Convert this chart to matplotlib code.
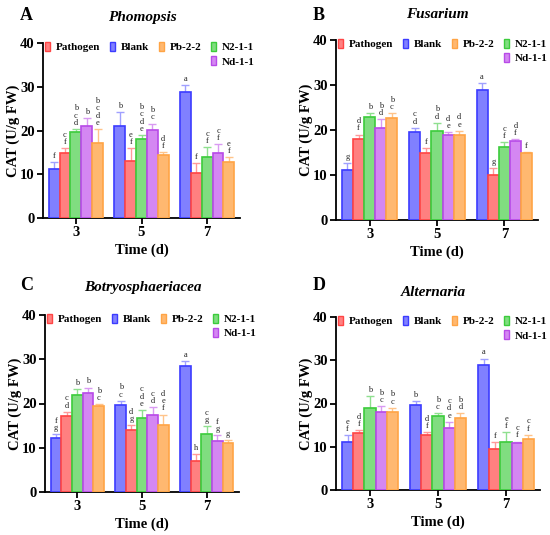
import matplotlib
matplotlib.use('Agg')
import matplotlib.pyplot as plt
from matplotlib.patches import Patch
import numpy as np

plt.rcParams['font.family'] = ['Liberation Serif', 'DejaVu Serif']

# bar order inside each group
treatments = ['Blank', 'Pathogen', 'N2-1-1', 'Nd-1-1', 'Pb-2-2']
legend_order = ['Pathogen', 'Blank', 'Pb-2-2', 'N2-1-1', 'Nd-1-1']
days = ['3', '5', '7']

face = {'Blank': '#8080ff', 'Pathogen': '#ff8080', 'N2-1-1': '#80dd80',
        'Nd-1-1': '#d487f2', 'Pb-2-2': '#ffb870'}
edge = {'Blank': '#3c3cff', 'Pathogen': '#ff4545', 'N2-1-1': '#3ccc3c',
        'Nd-1-1': '#b84ae8', 'Pb-2-2': '#ffa445'}
errc = {'Blank': '#a0a0ff', 'Pathogen': '#ff9a9a', 'N2-1-1': '#8fe08f',
        'Nd-1-1': '#d99af2', 'Pb-2-2': '#ffc48a'}

# rows follow treatments, columns follow days
phomopsis_mean = [[11.2, 21.0, 28.8], [14.9, 13.0, 10.4], [19.7, 18.0, 13.9],
                  [21.0, 20.1, 14.9], [17.1, 14.5, 12.7]]
phomopsis_err = [[1.6, 3.2, 1.5], [1.1, 3.0, 2.2], [0.6, 0.9, 2.3],
                 [1.9, 1.5, 2.0], [3.2, 0.5, 1.2]]
phomopsis_sig = [['f', 'b', 'a'], ['cf', 'ef', 'f'], ['bcd', 'bcde', 'cf'],
                 ['b', 'bc', 'cf'], ['bcde', 'df', 'ef']]

fusarium_mean = [[11.1, 19.6, 29.0], [17.9, 15.0, 10.1], [23.0, 19.8, 16.3],
                 [20.4, 19.0, 17.6], [22.6, 19.0, 14.8]]
fusarium_err = [[1.5, 0.9, 1.4], [1.1, 0.9, 1.4], [0.7, 1.8, 1.0],
                [2.0, 0.5, 0.4], [1.1, 0.8, 0.3]]
fusarium_sig = [['g', 'cd', 'a'], ['df', 'f', 'g'], ['b', 'bd', 'cf'],
                ['bd', 'de', 'df'], ['bc', 'de', 'f']]

botryo_mean = [[12.2, 19.6, 28.5], [17.2, 14.0, 7.0], [21.9, 16.8, 13.2],
               [22.3, 17.4, 11.5], [19.5, 15.1, 11.0]]
botryo_err = [[0.9, 1.0, 1.1], [0.9, 1.1, 1.5], [1.3, 1.7, 1.7],
              [1.3, 1.8, 1.3], [0.3, 2.4, 0.7]]
botryo_sig = [['fg', 'bc', 'a'], ['cd', 'dg', 'h'], ['b', 'cde', 'cg'],
              ['b', 'cd', 'fg'], ['bc', 'def', 'g']]

alternaria_mean = [[11.2, 19.6, 28.8], [13.1, 12.7, 9.4], [19.0, 17.1, 11.2],
                   [18.1, 14.4, 10.8], [18.1, 16.7, 11.9]]
alternaria_err = [[1.5, 0.9, 1.6], [0.7, 0.6, 1.6], [2.7, 0.7, 2.1],
                  [1.3, 1.4, 0.4], [0.9, 1.0, 0.9]]
alternaria_sig = [['ef', 'b', 'a'], ['df', 'df', 'f'], ['b', 'bc', 'ef'],
                  ['bc', 'cde', 'cf'], ['bc', 'bd', 'cf']]

W, H = 550, 535
fig = plt.figure(figsize=(W / 100, H / 100), dpi=100)


def px_axes(left, top, right, bottom):
    return fig.add_axes([left / W, 1 - bottom / H, (right - left) / W, (bottom - top) / H])


panels = [
    ('A', 'Phomopsis', (43, 43, 240, 218), phomopsis_mean, phomopsis_err, phomopsis_sig, (20, 16), (142, 18)),
    ('B', 'Fusarium', (336, 40, 538, 220), fusarium_mean, fusarium_err, fusarium_sig, (313, 15), (437, 15)),
    ('C', 'Botryosphaeriacea', (45, 315, 239, 492), botryo_mean, botryo_err, botryo_sig, (20, 285), (143, 288)),
    ('D', 'Alternaria', (336, 317, 540, 490), alternaria_mean, alternaria_err, alternaria_sig, (313, 285), (433, 292)),
]

bw = 0.165
x = np.arange(len(days))

for letter, title, box, means, errs, sigs, lpos, tpos in panels:
    ax = px_axes(*box)
    for i, t in enumerate(treatments):
        xs = x + (i - 2) * bw
        ax.bar(xs, means[i], bw, color=face[t], edgecolor=edge[t], linewidth=1.2, zorder=3)
        ax.errorbar(xs, means[i], yerr=[np.zeros(3), errs[i]], fmt='none',
                    ecolor=errc[t], elinewidth=1.0, capsize=2.8, capthick=1.0, zorder=2)
        for j in range(3):
            ax.annotate('\n'.join(sigs[i][j]), (xs[j], means[i][j] + errs[i][j]),
                        xytext=(0, 1.5), textcoords='offset points', ha='center', va='bottom',
                        fontsize=6, linespacing=0.9, color='#222222')

    ax.set_xlim(-0.5, 2.5)
    ax.set_ylim(0, 40)
    ax.set_yticks([0, 10, 20, 30, 40])
    ax.set_xticks(x)
    ax.set_xticklabels(days)
    for s in ['top', 'right']:
        ax.spines[s].set_visible(False)
    for s in ['left', 'bottom']:
        ax.spines[s].set_linewidth(1.3)
    ax.tick_params(width=1.3, length=4, labelsize=10.5, pad=2)
    for lab in ax.get_xticklabels() + ax.get_yticklabels():
        lab.set_fontweight('bold')
    ax.set_xlabel('Time (d)', fontsize=10.5, fontweight='bold', labelpad=3)
    ax.set_ylabel('CAT (U/g FW)', fontsize=10.5, fontweight='bold', labelpad=0)

    # legend: 4 on the first row, Nd-1-1 under N2-1-1
    blank_h = Patch(facecolor='none', edgecolor='none')
    hmap = {t: Patch(facecolor=face[t], edgecolor=edge[t], linewidth=1.0) for t in treatments}
    handles = [hmap['Pathogen'], blank_h, hmap['Blank'], blank_h,
               hmap['Pb-2-2'], blank_h, hmap['N2-1-1'], hmap['Nd-1-1']]
    labels = ['Pathogen', '', 'Blank', '', 'Pb-2-2', '', 'N2-1-1', 'Nd-1-1']
    ax.legend(handles, labels, ncol=4, loc='upper left', bbox_to_anchor=(0.0, 1.02),
              frameon=False, prop={'weight': 'bold', 'size': 8}, handlelength=0.45,
              handleheight=0.9, handletextpad=0.5, columnspacing=0.9, labelspacing=0.35,
              borderaxespad=0.0, borderpad=0.2)

    fig.text(lpos[0] / W, 1 - lpos[1] / H, letter, fontsize=13, fontweight='bold',
             ha='left', va='center')
    fig.text(tpos[0] / W, 1 - tpos[1] / H, title, fontsize=11, fontweight='bold',
             style='italic', ha='center', va='center')

fig.savefig('out.png', dpi=100)
